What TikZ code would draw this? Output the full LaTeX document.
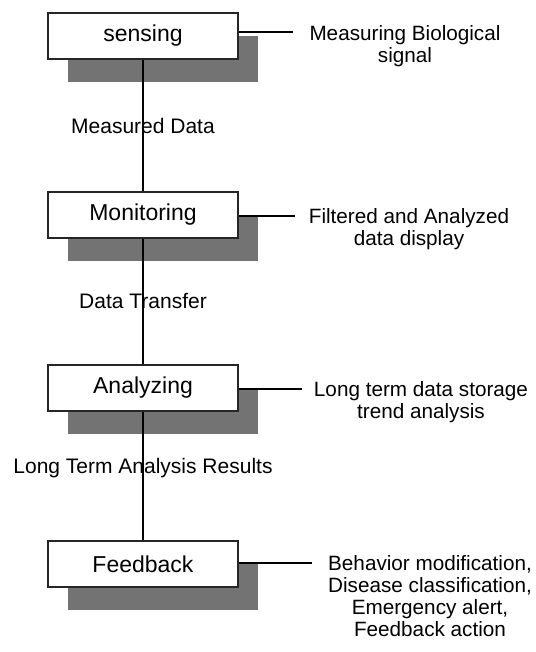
\documentclass[tikz,border=0pt]{standalone}
\usepackage{fontspec}
\setmainfont{Liberation Sans}
\usetikzlibrary{shadows}
\tikzstyle{stage}=[rectangle,draw=black!85,fill=white,line width=1.4pt,minimum width=190pt,minimum height=46pt,inner sep=0pt,font=\fontsize{23}{23}\selectfont,drop shadow={shadow xshift=20pt,shadow yshift=-23pt,fill=black!55,opacity=1}]
\tikzstyle{link}=[draw,line width=1.8pt]
\tikzstyle{side}=[draw,line width=1.8pt]
\tikzstyle{lbl}=[inner sep=0pt,font=\fontsize{21}{21}\selectfont]
\tikzstyle{note}=[anchor=north,align=center,inner sep=0pt,font=\fontsize{20.7}{22}\selectfont]

\begin{document}
\begin{tikzpicture}[x=1pt,y=-1pt]
      \useasboundingbox (0,0) rectangle (535,652);
      \node[stage] (sense) at (143,36) {sensing};
      \node[stage] (mon) at (143,215) {Monitoring};
      \node[stage] (ana) at (143,388) {Analyzing};
      \node[stage] (feed) at (143,564) {Feedback};
      \coordinate (e1) at (293,32);
      \coordinate (e2) at (295,216);
      \coordinate (e3) at (302,389);
      \coordinate (e4) at (312,563);
      \node[note] (n1) at (405,25) {Measuring Biological\\signal};
      \node[note] (n2) at (409,208) {Filtered and Analyzed\\data display};
      \node[note] (n3) at (421,381) {Long term data storage\\trend analysis};
      \node[note] (n4) at (430,555) {Behavior modification,\\Disease classification,\\Emergency alert,\\Feedback action};
      \draw[link] (sense) -- node[lbl]{Measured Data} (mon);
      \draw[link] (mon) -- node[lbl]{Data Transfer} (ana);
      \draw[link] (ana) -- node[lbl,pos=0.44]{Long Term Analysis Results} (feed);
      \draw[side] (sense.east |- e1) -- (e1);
      \draw[side] (mon.east |- e2) -- (e2);
      \draw[side] (ana.east |- e3) -- (e3);
      \draw[side] (feed.east |- e4) -- (e4);
  \end{tikzpicture}
\end{document}
